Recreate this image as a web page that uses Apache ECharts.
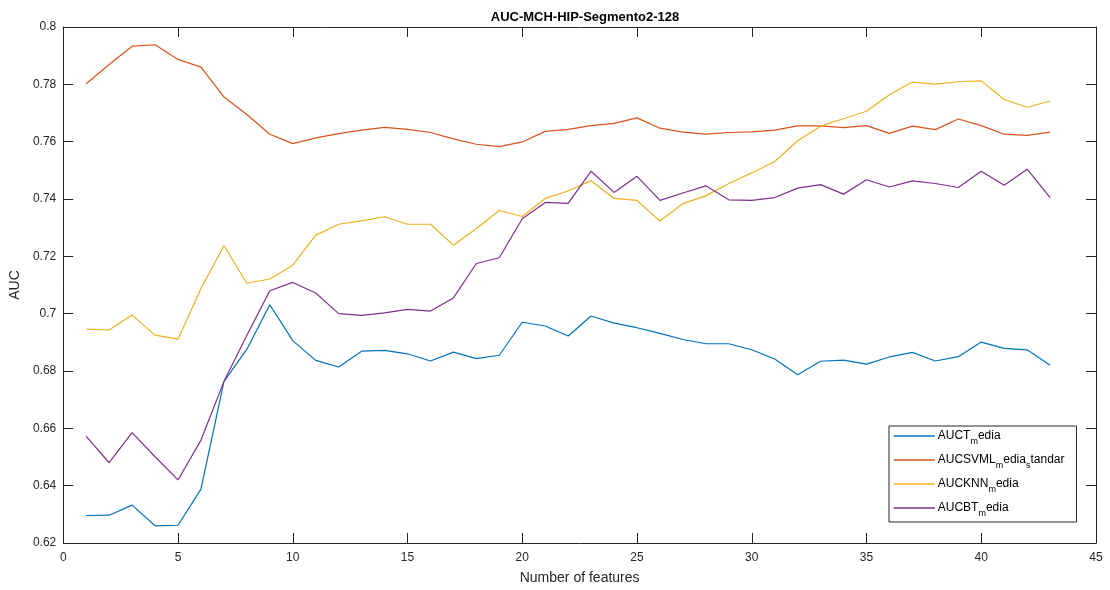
<!DOCTYPE html>
<html><head><meta charset="utf-8">
<script src="https://cdn.jsdelivr.net/npm/echarts@6/dist/echarts.min.js"></script>
<style>html,body{margin:0;padding:0;background:#fff}#c{width:1110px;height:590px}</style>
</head><body><div id="c"></div>
<script>
const features = Array.from({length: 43}, (_, i) => i + 1);
const aucT = [0.6296,0.6297,0.6332,0.6260,0.6262,0.6388,0.6763,0.6876,0.7031,0.6906,0.6837,0.6814,0.6869,0.6872,0.6860,0.6835,0.6866,0.6843,0.6855,0.6970,0.6957,0.6922,0.6992,0.6967,0.6951,0.6931,0.6910,0.6895,0.6895,0.6874,0.6842,0.6787,0.6834,0.6838,0.6824,0.6849,0.6865,0.6835,0.6850,0.6901,0.6879,0.6874,0.6820];
const aucSVM = [0.7802,0.7869,0.7933,0.7938,0.7887,0.7860,0.7756,0.7695,0.7626,0.7593,0.7613,0.7628,0.7640,0.7650,0.7643,0.7632,0.7610,0.7591,0.7583,0.7599,0.7636,0.7643,0.7656,0.7664,0.7683,0.7647,0.7633,0.7626,0.7632,0.7634,0.7640,0.7655,0.7655,0.7649,0.7656,0.7629,0.7654,0.7642,0.7679,0.7656,0.7626,0.7622,0.7633];
const aucKNN = [0.6946,0.6943,0.6995,0.6925,0.6911,0.7088,0.7237,0.7106,0.7121,0.7169,0.7274,0.7312,0.7324,0.7338,0.7312,0.7312,0.7239,0.7297,0.7360,0.7339,0.7402,0.7428,0.7464,0.7402,0.7395,0.7323,0.7384,0.7411,0.7454,0.7491,0.7531,0.7603,0.7654,0.7680,0.7706,0.7764,0.7808,0.7801,0.7809,0.7812,0.7747,0.7720,0.7742];
const aucBT = [0.6572,0.6480,0.6585,0.6501,0.6420,0.6559,0.6763,0.6925,0.7080,0.7109,0.7072,0.7000,0.6994,0.7003,0.7015,0.7009,0.7055,0.7175,0.7195,0.7331,0.7388,0.7385,0.7497,0.7423,0.7479,0.7395,0.7421,0.7446,0.7397,0.7395,0.7405,0.7438,0.7450,0.7417,0.7467,0.7442,0.7463,0.7454,0.7440,0.7497,0.7448,0.7504,0.7405];
const seriesNames = ['AUCT_media','AUCSVML_media_standar','AUCKNN_media','AUCBT_media'];
const legendLabels = ['AUCT{s|m}edia','AUCSVML{s|m}edia{s|s}tandar','AUCKNN{s|m}edia','AUCBT{s|m}edia'];
const colors = ['#0072BD','#D95319','#EDB120','#7E2F8E'];
const allData = [aucT, aucSVM, aucKNN, aucBT];
const titleText = 'AUC-MCH-HIP-Segmento2-128';
const xLabel = 'Number of features';
const yLabel = 'AUC';

const FONT = 'Liberation Sans, Arial, Helvetica, sans-serif';
const axCol = '#262626';
const chart = echarts.init(document.getElementById('c'), null, {renderer: 'canvas'});
const commonAxis = {
  axisLine: {show: true, onZero: false, lineStyle: {color: axCol, width: 1}},
  axisTick: {show: true, inside: true, length: 10, lineStyle: {color: axCol}},
  splitLine: {show: false},
};
chart.setOption({
  animation: false,
  color: colors,
  title: {text: titleText, left: 580, textAlign: 'center', top: 6,
    textStyle: {fontFamily: FONT, fontSize: 13, fontWeight: 'bold', color: '#000'}},
  grid: {left: 62, right: 14, top: 27, bottom: 47, containLabel: false},
  legend: {
    orient: 'vertical', left: 889, top: 426, width: 188,
    padding: [4, 12, 4, 4], itemGap: 8, itemWidth: 41, itemHeight: 14,
    borderColor: axCol, borderWidth: 1, backgroundColor: '#fff',
    data: seriesNames,
    itemStyle: {opacity: 0},
    lineStyle: {width: 1.5},
    formatter: name => legendLabels[seriesNames.indexOf(name)],
    textStyle: {fontFamily: FONT, fontSize: 12, color: '#000', padding: [0, 0, 0, -2],
      rich: {s: {fontFamily: FONT, fontSize: 9, color: '#000', padding: [11, 0, 0, 0]}}}
  },
  xAxis: [
    Object.assign({type: 'value', min: 0, max: 45, interval: 5, position: 'bottom',
      name: xLabel, nameLocation: 'middle', nameGap: 28,
      nameTextStyle: {fontFamily: FONT, fontSize: 14, color: axCol},
      axisLabel: {fontFamily: FONT, fontSize: 12, color: axCol, margin: 9}}, commonAxis),
    Object.assign({type: 'value', min: 0, max: 45, interval: 5, position: 'top',
      axisLabel: {show: false}}, commonAxis)
  ],
  yAxis: [
    Object.assign({type: 'value', min: 0.62, max: 0.8, interval: 0.02, position: 'left',
      name: yLabel, nameLocation: 'middle', nameGap: 38,
      nameTextStyle: {fontFamily: FONT, fontSize: 14, color: axCol},
      axisLabel: {fontFamily: FONT, fontSize: 12, color: axCol, margin: 7,
        formatter: v => String(+v.toFixed(2))}}, commonAxis),
    Object.assign({type: 'value', min: 0.62, max: 0.8, interval: 0.02, position: 'right',
      axisLabel: {show: false}}, commonAxis)
  ],
  series: allData.map((d, i) => ({
    name: seriesNames[i], type: 'line', symbol: 'none', xAxisIndex: 0, yAxisIndex: 0,
    lineStyle: {width: 1.2, color: colors[i]}, itemStyle: {color: colors[i]},
    data: features.map((f, j) => [f, d[j]])
  }))
});
</script></body></html>
